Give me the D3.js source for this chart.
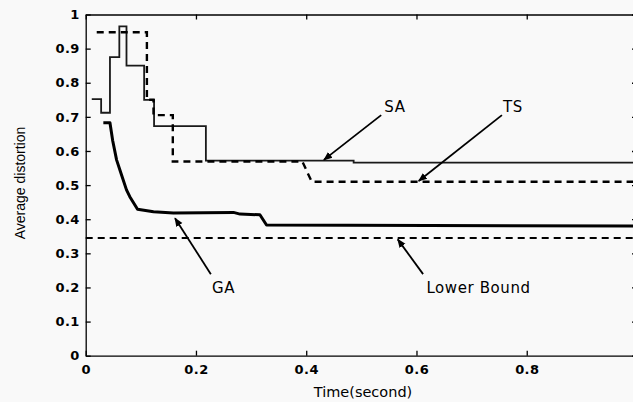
<!DOCTYPE html>
<html lang="en">
<head>
    <meta charset="UTF-8">
    <title></title>
    <script type="text/javascript" src="https://cdnjs.cloudflare.com/ajax/libs/d3/7.8.5/d3.min.js"></script>
    <style>
        body{
            margin: 0;
            background-color: #f9f9f9;
        }
        svg{
            display: block;
        }
        .axis path,
        .axis line{
            fill: none;
            stroke: #000;
            stroke-width: 1.3px;
        }
        .axis text{
            font-family: "DejaVu Sans", sans-serif;
            font-size: 13px;
            font-weight: bold;
            letter-spacing: 0.4px;
            fill: #000;
        }
        .note{
            font-family: "DejaVu Sans", sans-serif;
            font-size: 15px;
            letter-spacing: 0.6px;
            fill: #000;
        }
    </style>
</head>
<body>
<div id="app"></div>
<script type="text/javascript">
    // values
    var xTicks = [0, 0.2, 0.4, 0.6, 0.8, 1];
    var xTickLabels = ["0", "0.2", "0.4", "0.6", "0.8", "1"];
    var yTicks = [0, 0.1, 0.2, 0.3, 0.4, 0.5, 0.6, 0.7, 0.8, 0.9, 1];
    var yTickLabels = ["0", "0.1", "0.2", "0.3", "0.4", "0.5", "0.6", "0.7", "0.8", "0.9", "1"];

    var saTime  = [0.011, 0.028, 0.044, 0.061, 0.074, 0.106, 0.124, 0.218, 0.486, 1.0];
    var saValue = [0.752, 0.712, 0.875, 0.965, 0.85, 0.75, 0.673, 0.572, 0.566, 0.566];

    var tsTime  = [0.02, 0.111, 0.111, 0.123, 0.123, 0.158, 0.158, 0.393, 0.410, 1.0];
    var tsValue = [0.948, 0.948, 0.75, 0.75, 0.705, 0.705, 0.569, 0.569, 0.51, 0.51];

    var gaTime  = [0.032, 0.044, 0.049, 0.056, 0.064, 0.074, 0.080, 0.094, 0.123, 0.159, 0.268, 0.28, 0.316, 0.328, 1.0];
    var gaValue = [0.683, 0.683, 0.63, 0.574, 0.535, 0.486, 0.466, 0.429, 0.422, 0.418, 0.42, 0.415, 0.413, 0.383, 0.38];

    var lbTime  = [0, 1];
    var lbValue = [0.345, 0.345];

    var noteText = ["SA", "TS", "GA", "Lower Bound"];
    var noteX    = [0.561, 0.775, 0.25, 0.618];
    var noteY    = [0.729, 0.729, 0.199, 0.2];
    var arrowX0  = [0.536, 0.755, 0.227, 0.612];
    var arrowY0  = [0.705, 0.705, 0.239, 0.239];
    var arrowX1  = [0.432, 0.604, 0.162, 0.566];
    var arrowY1  = [0.574, 0.512, 0.403, 0.341];
    var noteAnchor = ["middle", "middle", "middle", "start"];

    var W = 633, H = 402;
    var x = d3.scaleLinear().domain([0, 1]).range([85.7, 637]);
    var y = d3.scaleLinear().domain([0, 1]).range([355.7, 14.5]);

    var svg = d3.select("#app").append("svg").attr("width", W).attr("height", H);

    var defs = svg.append("defs");
    defs.append("marker")
        .attr("id", "head")
        .attr("viewBox", "0 0 10 10")
        .attr("refX", 9).attr("refY", 5)
        .attr("markerWidth", 9).attr("markerHeight", 9)
        .attr("markerUnits", "userSpaceOnUse")
        .attr("orient", "auto")
        .append("path").attr("d", "M0,1L10,5L0,9Z").attr("fill", "#000");

    function pts(t, v){
        return t.map(function(d, i){ return [d, v[i]]; });
    }

    var line = d3.line().x(function(d){ return x(d[0]); }).y(function(d){ return y(d[1]); });
    var stepLine = d3.line().curve(d3.curveStepAfter)
        .x(function(d){ return x(d[0]); }).y(function(d){ return y(d[1]); });

    // axes, ticks point inward
    svg.append("g").attr("class", "axis")
        .attr("transform", "translate(0," + y(0) + ")")
        .call(d3.axisBottom(x).tickValues(xTicks).tickSizeInner(-5).tickSizeOuter(0).tickPadding(9)
            .tickFormat(function(d, i){ return xTickLabels[i]; }));
    svg.append("g").attr("class", "axis")
        .attr("transform", "translate(0," + y(1) + ")")
        .call(d3.axisTop(x).tickValues(xTicks).tickSizeInner(-5).tickSizeOuter(0).tickFormat(""));
    svg.append("g").attr("class", "axis")
        .attr("transform", "translate(" + x(0) + ",0)")
        .call(d3.axisLeft(y).tickValues(yTicks).tickSizeInner(-5).tickSizeOuter(0).tickPadding(6)
            .tickFormat(function(d, i){ return yTickLabels[i]; }));
    svg.append("g").attr("class", "axis")
        .attr("transform", "translate(" + x(1) + ",0)")
        .call(d3.axisRight(y).tickValues(yTicks).tickSizeInner(-5).tickSizeOuter(0).tickFormat(""));

    // series
    svg.append("path").attr("d", line(pts(lbTime, lbValue)))
        .attr("fill", "none").attr("stroke", "#000").attr("stroke-width", 2)
        .attr("stroke-dasharray", "7,5");
    svg.append("path").attr("d", stepLine(pts(saTime, saValue)))
        .attr("fill", "none").attr("stroke", "#1a1a1a").attr("stroke-width", 1.8);
    svg.append("path").attr("d", line(pts(tsTime, tsValue)))
        .attr("fill", "none").attr("stroke", "#000").attr("stroke-width", 2.4)
        .attr("stroke-dasharray", "7,5");
    svg.append("path").attr("d", line(pts(gaTime, gaValue)))
        .attr("fill", "none").attr("stroke", "#000").attr("stroke-width", 3)
        .attr("stroke-linejoin", "round");

    // annotations
    var notes = svg.selectAll("g.note-g").data(noteText).enter().append("g").attr("class", "note-g");
    notes.append("line")
        .attr("x1", function(d, i){ return x(arrowX0[i]); })
        .attr("y1", function(d, i){ return y(arrowY0[i]); })
        .attr("x2", function(d, i){ return x(arrowX1[i]); })
        .attr("y2", function(d, i){ return y(arrowY1[i]); })
        .attr("stroke", "#000").attr("stroke-width", 1.8)
        .attr("marker-end", "url(#head)");
    notes.append("text").attr("class", "note")
        .attr("x", function(d, i){ return x(noteX[i]); })
        .attr("y", function(d, i){ return y(noteY[i]); })
        .attr("dy", "0.36em")
        .attr("text-anchor", function(d, i){ return noteAnchor[i]; })
        .text(function(d){ return d; });

    // axis titles
    svg.append("text")
        .attr("x", 363).attr("y", 397)
        .attr("text-anchor", "middle")
        .style("font-family", "'DejaVu Sans', sans-serif")
        .style("font-size", "14.5px")
        .text("Time(second)");
    svg.append("text")
        .attr("transform", "translate(25,183) rotate(-90)")
        .attr("text-anchor", "middle")
        .style("font-family", "'Liberation Sans', Arial, sans-serif")
        .style("font-size", "14px")
        .text("Average distortion");
</script>
</body>
</html>
